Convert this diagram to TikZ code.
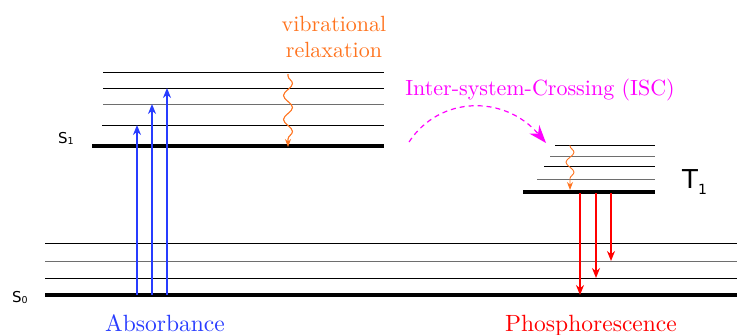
\documentclass[tikz,border=0pt]{standalone}
\usepackage{fontspec}
\newfontfamily\lvlfont{DejaVu Sans}
\newfontfamily\lblfont{lmroman10-regular.otf}
\usetikzlibrary{arrows.meta,decorations.pathmorphing}
\definecolor{absblue}{RGB}{40,60,255}
\definecolor{vibor}{RGB}{255,115,30}
\definecolor{iscmag}{RGB}{255,0,255}
\definecolor{phred}{RGB}{255,0,0}
\definecolor{lvlgray}{RGB}{110,110,110}
\tikzset{
  mainlevel/.style={line width=4pt, black},
  sublevel/.style={line width=0.9pt, black},
  graylevel/.style={line width=0.9pt, lvlgray},
  absarrow/.style={absblue, line width=1.8pt, -{Stealth[length=10pt,width=8pt]}},
  pharrow/.style={phred, line width=1.8pt, -{Stealth[length=10pt,width=8pt]}},
  vibarrow/.style={vibor, line width=1.1pt, -{Stealth[length=8pt,width=6pt]},
     decorate, decoration={snake, segment length=24pt, amplitude=4.5pt, pre length=2pt, post length=6pt}},
  bigtxt/.style={font=\lblfont\fontsize{22}{26}\selectfont, inner sep=0pt},
  lvllbl/.style={inner sep=0pt, anchor=base west}
}
\begin{document}
\begin{tikzpicture}[x=1pt,y=-1pt]
\useasboundingbox (0,0) rectangle (737,335);
% S1 manifold
\draw[sublevel] (103,72) -- (384,72);
\draw[sublevel] (103,88) -- (384,88);
\draw[graylevel] (103,104) -- (384,104);
\draw[sublevel] (102,125) -- (384,125);
\draw[mainlevel] (92,146) -- (384,146);
% S0 manifold
\draw[sublevel] (45,243) -- (737,243);
\draw[graylevel] (45,261) -- (737,261);
\draw[sublevel] (45,278) -- (737,278);
\draw[mainlevel] (45,295) -- (737,295);
% T1 manifold
\draw[sublevel] (555,145) -- (655,145);
\draw[graylevel] (550,156) -- (655,156);
\draw[sublevel] (544,166) -- (655,166);
\draw[graylevel] (537,179) -- (655,179);
\draw[mainlevel] (523,192) -- (655,192);
% level labels
\node[lvllbl, font=\lvlfont\fontsize{15}{17}\selectfont] (s1) at (58,143) {S\raisebox{-1.5pt}{\fontsize{9.5}{10}\selectfont 1}};
\node[lvllbl, font=\lvlfont\fontsize{15}{17}\selectfont] (s0) at (12,302) {S\raisebox{-1.5pt}{\fontsize{9.5}{10}\selectfont 0}};
\node[lvllbl, font=\lvlfont\fontsize{26}{28}\selectfont] (t1) at (682,188) {T\raisebox{-6pt}{\fontsize{14}{16}\selectfont 1}};
% absorbance arrows
\coordinate (a1s) at (137,295); \coordinate (a1e) at (137,125);
\coordinate (a2s) at (152,295); \coordinate (a2e) at (152,104);
\coordinate (a3s) at (167,295); \coordinate (a3e) at (167,88);
\draw[absarrow] (a1s) -- (a1e);
\draw[absarrow] (a2s) -- (a2e);
\draw[absarrow] (a3s) -- (a3e);
% phosphorescence arrows
\coordinate (p1s) at (580,193); \coordinate (p1e) at (580,295);
\coordinate (p2s) at (596,193); \coordinate (p2e) at (596,278);
\coordinate (p3s) at (611,193); \coordinate (p3e) at (611,261);
\draw[pharrow] (p1s) -- (p1e);
\draw[pharrow] (p2s) -- (p2e);
\draw[pharrow] (p3s) -- (p3e);
% vibrational relaxation
\coordinate (v1s) at (288,74); \coordinate (v1e) at (288,147);
\coordinate (v2s) at (570,145); \coordinate (v2e) at (570,190);
\draw[vibarrow] (v1s) -- (v1e);
\draw[vibarrow, line width=0.9pt, decoration={snake, segment length=20pt, amplitude=4pt, pre length=1pt, post length=5pt}] (v2s) -- (v2e);
% ISC arrow
\coordinate (iscs) at (409,142); \coordinate (isce) at (546,143);
\draw[iscmag, line width=1.2pt, dash pattern=on 5pt off 4pt, -{Stealth[length=18pt,width=13pt]}]
  (iscs) .. controls (440,95) and (505,95) .. (isce);
% texts
\node[bigtxt, vibor, align=center] (vib) at (334,37) {vibrational\\relaxation};
\node[bigtxt, iscmag, anchor=base] (isc) at (540,95) {Inter-system-Crossing (ISC)};
\node[bigtxt, absblue, anchor=base, font=\lblfont\fontsize{23.5}{26}\selectfont] (abs) at (165,331) {Absorbance};
\node[bigtxt, phred, anchor=base, font=\lblfont\fontsize{23.5}{26}\selectfont] (pho) at (591,331) {Phosphorescence};
\end{tikzpicture}
\end{document}
